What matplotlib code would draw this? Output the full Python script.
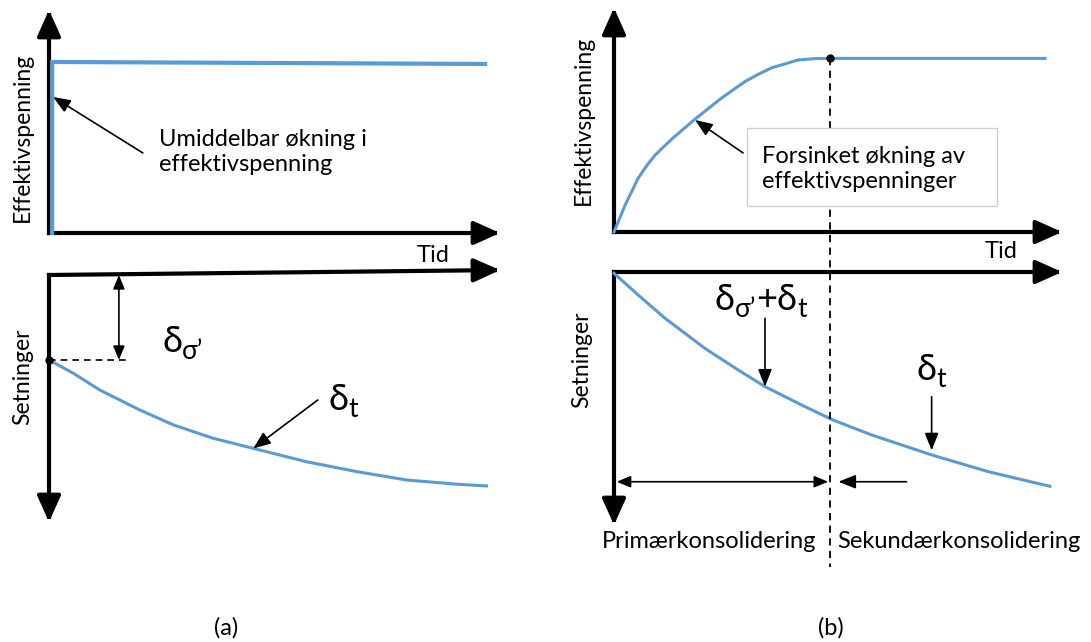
import matplotlib
matplotlib.use("Agg")
import matplotlib.pyplot as plt
from matplotlib.patches import Rectangle

plt.rcParams['font.family'] = ['Lato', 'DejaVu Sans']

BLUE = '#5B9BD5'
W, H = 1091, 642
FS = 17      # vanlig tekst
FS_AX = 16.5 # aksetitler
FS_D = 26    # delta
FS_SUB = 19  # indeks

# (a) øverst: umiddelbar økning i effektivspenning (tid i %, spenning i %)
a_top_t = [0.7, 0.7, 96.7]
a_top_v = [0.0, 76.7, 75.8]

# (a) nederst: setninger
a_bot_t = [0.0, 5.4, 11.3, 20.2, 27.6, 36.4, 45.3, 57.1, 68.2, 79.3, 90.4, 97.0]
a_bot_s = [34.4, 39.8, 46.6, 54.7, 60.7, 66.1, 70.2, 75.6, 79.6, 83.0, 84.7, 85.4]

# (b) øverst: forsinket økning i effektivspenning
b_top_t = [0.0, 2.5, 5.4, 7.3, 9.2, 12.9, 18.1, 24.0, 29.2, 32.2,
           35.2, 41.1, 44.9, 48.6, 96.2]
b_top_v = [0.0, 12.1, 24.0, 29.6, 34.4, 41.5, 50.4, 59.8, 67.1, 70.4,
           73.3, 76.8, 77.4, 77.5, 77.5]

# (b) nederst: setninger
b_bot_t = [0.0, 5.4, 11.4, 20.3, 27.7, 33.7, 42.6, 48.9, 57.5, 70.9, 83.5, 97.3]
b_bot_s = [0.5, 9.1, 18.3, 30.2, 38.7, 45.3, 53.2, 58.5, 64.4, 72.3, 78.9, 84.7]

t_primary = 48.2  # slutt på primærkonsolidering

AX_ARROW = dict(arrowstyle='-|>,head_length=0.8,head_width=0.36', mutation_scale=20,
                lw=3, color='black', shrinkA=0, shrinkB=0, capstyle='projecting')
THIN = dict(arrowstyle='-|>,head_length=0.7,head_width=0.28', mutation_scale=15,
            lw=1.2, color='black', shrinkA=0, shrinkB=0)
DBL = dict(arrowstyle='<|-|>,head_length=0.6,head_width=0.25', mutation_scale=14,
           lw=1.2, color='black', shrinkA=0, shrinkB=0)

fig = plt.figure(figsize=(W / 100, H / 100), dpi=100)


def panel(left, top, right, bottom, down=False):
    ax = fig.add_axes([left / W, 1 - bottom / H, (right - left) / W, (bottom - top) / H])
    ax.set_xlim(0, 100)
    ax.set_ylim((100, 0) if down else (0, 100))
    ax.axis('off')
    ax.patch.set_visible(False)
    return ax


def axis_arrows(ax, x_tip=0):
    ax.annotate('', xy=(100, x_tip), xytext=(0, 0), arrowprops=AX_ARROW, annotation_clip=False)
    ax.annotate('', xy=(0, 100), xytext=(0, 0), arrowprops=AX_ARROW, annotation_clip=False)


def arrow(ax, start, end, props=THIN):
    ax.annotate('', xy=end, xytext=start, arrowprops=props, annotation_clip=False)


def delta_label(ax, x, y, parts):
    base = ax.text(x, y, parts[0][0], fontsize=parts[0][1], va='baseline', ha='left')
    prev = base
    for txt, size, dy in parts[1:]:
        prev = ax.annotate(txt, xy=(1, 0), xycoords=(prev, base), xytext=(0, dy),
                           textcoords='offset points', fontsize=size, va='bottom', ha='left')
    return base


# ---- (a) øverst
ax = panel(49, 10, 500, 233)
axis_arrows(ax)
ax.plot(a_top_t, a_top_v, color=BLUE, lw=3, solid_joinstyle='miter', clip_on=False, zorder=3)
ax.text(-6.0, 43.0, 'Effektivspenning', rotation=90, fontsize=FS_AX, ha='center', va='center')
ax.text(85.1, -9.9, 'Tid', fontsize=FS, ha='center', va='center')
ax.text(24.4, 36.3, 'Umiddelbar økning i\neffektivspenning', fontsize=FS,
        ha='left', va='center', linespacing=1.25)
arrow(ax, (20.8, 35.9), (0.9, 61.0))

# ---- (a) nederst
ax = panel(49, 275, 500, 522, down=True)
axis_arrows(ax, x_tip=-2.0)
ax.plot(a_bot_t, a_bot_s, color=BLUE, lw=2.2, clip_on=False, zorder=3)
ax.plot([0, 17.5], [a_bot_s[0], a_bot_s[0]], color='black', lw=1.2, ls=(0, (4, 3)))
ax.plot([0], [a_bot_s[0]], 'o', color='black', ms=5, zorder=4, clip_on=False)
arrow(ax, (15.5, 0), (15.5, a_bot_s[0]), DBL)
ax.text(-5.8, 41.3, 'Setninger', rotation=90, fontsize=FS_AX, ha='center', va='center')
delta_label(ax, 25.1, 31.2, [('δ', FS_D), ('σ’', FS_SUB, -4)])
delta_label(ax, 61.9, 54.7, [('δ', FS_D), ('t', FS_SUB, -4)])
arrow(ax, (59.6, 50.6), (45.3, 70.2))

# ---- (b) nederst
ax = panel(614, 272, 1062, 525, down=True)
axis_arrows(ax)
ax.plot(b_bot_t, b_bot_s, color=BLUE, lw=2.2, clip_on=False, zorder=3)
ax.text(-7.1, 34.8, 'Setninger', rotation=90, fontsize=FS_AX, ha='center', va='center')
delta_label(ax, 22.5, 15.0, [('δ', FS_D), ('σ’', FS_SUB, -4), ('+δ', FS_D, 0), ('t', FS_SUB, -4)])
arrow(ax, (33.7, 18.3), (33.7, 45.3))
delta_label(ax, 67.6, 42.7, [('δ', FS_D), ('t', FS_SUB, -4)])
arrow(ax, (70.9, 49.3), (70.9, 70.5))
arrow(ax, (0.6, 82.9), (47.8, 82.9), DBL)
arrow(ax, (65.3, 82.9), (50.1, 82.9))
ax.text(-2.7, 106.7, 'Primærkonsolidering', fontsize=FS, ha='left', va='center')
ax.text(49.8, 106.7, 'Sekundærkonsolidering', fontsize=FS, ha='left', va='center')

# ---- (b) øverst
ax = panel(614, 8, 1062, 232)
axis_arrows(ax)
ax.plot(b_top_t, b_top_v, color=BLUE, lw=2.2, clip_on=False, zorder=3)
ax.plot([t_primary], [b_top_v[-1]], 'o', color='black', ms=5, zorder=4, clip_on=False)
ax.plot([t_primary, t_primary], [b_top_v[-1], -149.6], color='black', lw=1.3,
        ls=(0, (4, 3)), clip_on=False, zorder=2)
ax.add_patch(Rectangle((29.7, 11.6), 55.8, 34.8, fc='white', ec='#d0d0d0', lw=1, zorder=5))
ax.text(33.0, 28.1, 'Forsinket økning av\neffektivspenninger', fontsize=FS,
        ha='left', va='center', linespacing=1.25, zorder=6)
arrow(ax, (28.8, 35.3), (18.1, 50.0))
ax.text(-6.9, 50.0, 'Effektivspenning', rotation=90, fontsize=FS_AX, ha='center', va='center')
ax.text(86.4, -8.9, 'Tid', fontsize=FS, ha='center', va='center')

fig.text(226 / W, 1 - 628 / H, '(a)', fontsize=FS, ha='center', va='center')
fig.text(831 / W, 1 - 628 / H, '(b)', fontsize=FS, ha='center', va='center')

fig.savefig('out.png', dpi=100)
